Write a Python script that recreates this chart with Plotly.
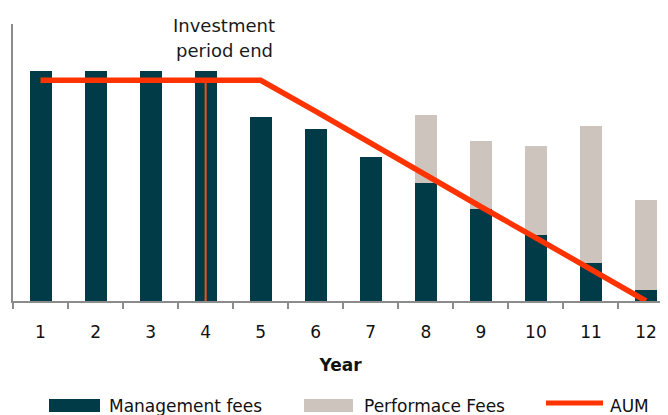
import plotly.graph_objects as go

years = ["1", "2", "3", "4", "5", "6", "7", "8", "9", "10", "11", "12"]
management_fees = [2.00, 2.00, 2.00, 2.00, 1.60, 1.50, 1.25, 1.03, 0.80, 0.57, 0.33, 0.10]
performance_fees = [0, 0, 0, 0, 0, 0, 0, 0.59, 0.59, 0.78, 1.19, 0.78]
aum = [1.92, 1.92, 1.92, 1.92, 1.92, 1.65, 1.37, 1.10, 0.82, 0.55, 0.27, 0.00]
investment_end_year = "4"
series_names = ["Management fees", "Performace Fees", "AUM"]
note_lines = ["Investment", "period end"]

C_MGMT = "#023b48"
C_PERF = "#cdc4bd"
C_AUM = "#ff3300"
FONT = "DejaVu Sans"

fig = go.Figure()
fig.add_trace(go.Bar(x=years, y=management_fees, name=series_names[0],
                     marker=dict(color=C_MGMT, line=dict(width=0))))
fig.add_trace(go.Bar(x=years, y=performance_fees, name=series_names[1],
                     marker=dict(color=C_PERF, line=dict(width=0))))

# investment period end marker
idx = years.index(investment_end_year)
fig.add_trace(go.Scatter(x=[investment_end_year, investment_end_year], y=[0, aum[idx]],
                         mode="lines", line=dict(color="#f0501e", width=2),
                         showlegend=False, hoverinfo="skip"))
fig.add_trace(go.Scatter(x=years, y=aum, mode="lines", name=series_names[2],
                         line=dict(color=C_AUM, width=5.5)))

# page has an 8px body margin; figure sized to fit the 668x415 window
OFF = 8
W, H = 668 - OFF, 415 - OFF
ml, mr, mt, mb = 13 - OFF, 0, 24 - OFF, 415 - 301
pw = W - ml - mr
ph = H - mt - mb

def px_to_paper_x(px):
    # px in page coordinates
    return (px - OFF - ml) / pw

def px_to_paper_y(py):
    return (H - mb - (py - OFF)) / ph

fig.update_layout(
    width=W, height=H,
    margin=dict(l=ml, r=mr, t=mt, b=mb),
    barmode="stack", bargap=0.6,
    plot_bgcolor="white", paper_bgcolor="white",
    showlegend=False,
    font=dict(family=FONT, size=17, color="#111111"),
    xaxis=dict(type="category", range=[-0.5, 11.40],
               showline=True, linecolor="#8c8c8c", linewidth=2,
               ticks="outside", ticklen=6, tickwidth=2, tickcolor="#8c8c8c",
               tickson="boundaries", showgrid=False, zeroline=False,
               tickfont=dict(family=FONT, size=17, color="#111111"),
               ticklabelstandoff=15,
               title=dict(text="<b>Year</b>", font=dict(family=FONT, size=17, color="#111111"),
                          standoff=18)),
    yaxis=dict(range=[0, 2.41], showline=True, linecolor="#8c8c8c", linewidth=2,
               showticklabels=False, showgrid=False, zeroline=False, ticks=""),
)

for line_text, cy in zip(note_lines, [25.5, 50.5]):
    fig.add_annotation(text=line_text, xref="paper", yref="paper",
                       x=px_to_paper_x(224), y=px_to_paper_y(cy), xanchor="center", yanchor="middle",
                       showarrow=False, font=dict(family=FONT, size=18, color="#1a1a1a"))

# custom legend
ly = 405.5
legend_items = [
    (series_names[0], "rect", C_MGMT, 49, 100, 107),
    (series_names[1], "rect", C_PERF, 304, 353, 362),
    (series_names[2], "line", C_AUM, 546, 603, 608),
]
for name, kind, color, x0, x1, tx in legend_items:
    if kind == "rect":
        fig.add_shape(type="rect", xref="paper", yref="paper",
                      x0=px_to_paper_x(x0), x1=px_to_paper_x(x1),
                      y0=px_to_paper_y(412), y1=px_to_paper_y(399),
                      fillcolor=color, line=dict(width=0))
    else:
        fig.add_shape(type="line", xref="paper", yref="paper",
                      x0=px_to_paper_x(x0), x1=px_to_paper_x(x1),
                      y0=px_to_paper_y(403), y1=px_to_paper_y(403),
                      line=dict(color=color, width=5))
    fig.add_annotation(text=name, xref="paper", yref="paper",
                       x=px_to_paper_x(tx), y=px_to_paper_y(ly),
                       xanchor="left", yanchor="middle", showarrow=False,
                       font=dict(family=FONT, size=17, color="#111111"))

fig.write_html("out.html")
